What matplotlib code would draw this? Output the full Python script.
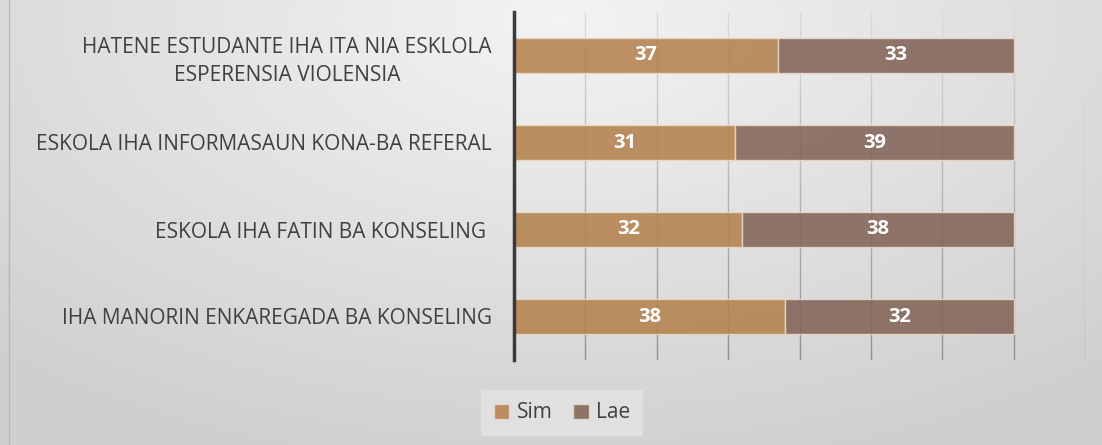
import numpy as np
import matplotlib.pyplot as plt
from matplotlib.collections import LineCollection

plt.rcParams['font.family'] = ['Open Sans', 'DejaVu Sans']

# data (bottom to top)
categories = ['IHA MANORIN ENKAREGADA BA KONSELING',
              'ESKOLA IHA FATIN BA KONSELING ',
              'ESKOLA IHA INFORMASAUN KONA-BA REFERAL',
              'HATENE ESTUDANTE IHA ITA NIA ESKLOLA\nESPERENSIA VIOLENSIA']
sim = [38, 32, 31, 37]
lae = [32, 38, 39, 33]

fig = plt.figure(figsize=(11.02, 4.45), dpi=100)

# gradient background
bg = fig.add_axes([0, 0, 1, 1], zorder=-10)
yy, xx = np.mgrid[0:445, 0:1102]
r = np.sqrt(((xx - 560) / 1102.0) ** 2 + ((yy - 20) / 445.0) ** 2 * 0.55)
r = np.clip(r / 0.75, 0, 1)
shade = 0.955 - 0.14 * r
bg.imshow(np.dstack([shade] * 3), aspect='auto', extent=[0, 1, 0, 1])
bg.axvline(0.008, color='#b8b8b8', lw=1)
bg.set_axis_off()

ax = fig.add_axes([514 / 1102, 85 / 445, 571 / 1102, 348 / 445])
ax.patch.set_alpha(0)
ypos = np.arange(len(categories))

# vertical gridlines, lighter at top and darker at bottom
segs, cols = [], []
edges = np.linspace(-0.5, 3.5, 60)
for gx in range(10, 90, 10):
    for i in range(len(edges) - 1):
        segs.append([(gx, edges[i]), (gx, edges[i + 1])])
        t = (edges[i] + 0.5) / 4.0
        c = 0.56 + 0.30 * t
        cols.append((c, c, c))
ax.add_collection(LineCollection(segs, colors=cols, linewidths=1.0, zorder=1))

b1 = ax.barh(ypos, sim, height=0.4, color='#b5824f', alpha=0.88,
             edgecolor='#ead9c8', linewidth=1, label='Sim', zorder=2)
b2 = ax.barh(ypos, lae, left=sim, height=0.4, color='#836459', alpha=0.88,
             edgecolor='#ead9c8', linewidth=1, label='Lae', zorder=2)

for bars in (b1, b2):
    ax.bar_label(bars, label_type='center', color='white', fontsize=14.5,
                 fontweight='bold')

ax.set_xlim(0, 80)
ax.set_ylim(-0.5, 3.5)
ax.set_yticks(ypos)
ax.set_yticklabels(categories, fontsize=15, color='#404040',
                   multialignment='center', linespacing=1.45)
ax.tick_params(axis='y', length=0, pad=16)
ax.set_xticks([])
for s in ['top', 'right', 'bottom']:
    ax.spines[s].set_visible(False)
ax.spines['left'].set_color('#3a3a3a')
ax.spines['left'].set_linewidth(2.5)

leg = fig.legend(loc='center', bbox_to_anchor=(0.51, 0.072), ncol=2,
                 frameon=True, fontsize=15, handlelength=0.75,
                 handleheight=0.75, columnspacing=1.0, handletextpad=0.35)
leg.get_frame().set_facecolor('#e4e4e4')
leg.get_frame().set_edgecolor('none')
leg.get_frame().set_boxstyle('square', pad=0.2)
for t in leg.get_texts():
    t.set_color('#404040')

fig.savefig('out.png', dpi=100)
